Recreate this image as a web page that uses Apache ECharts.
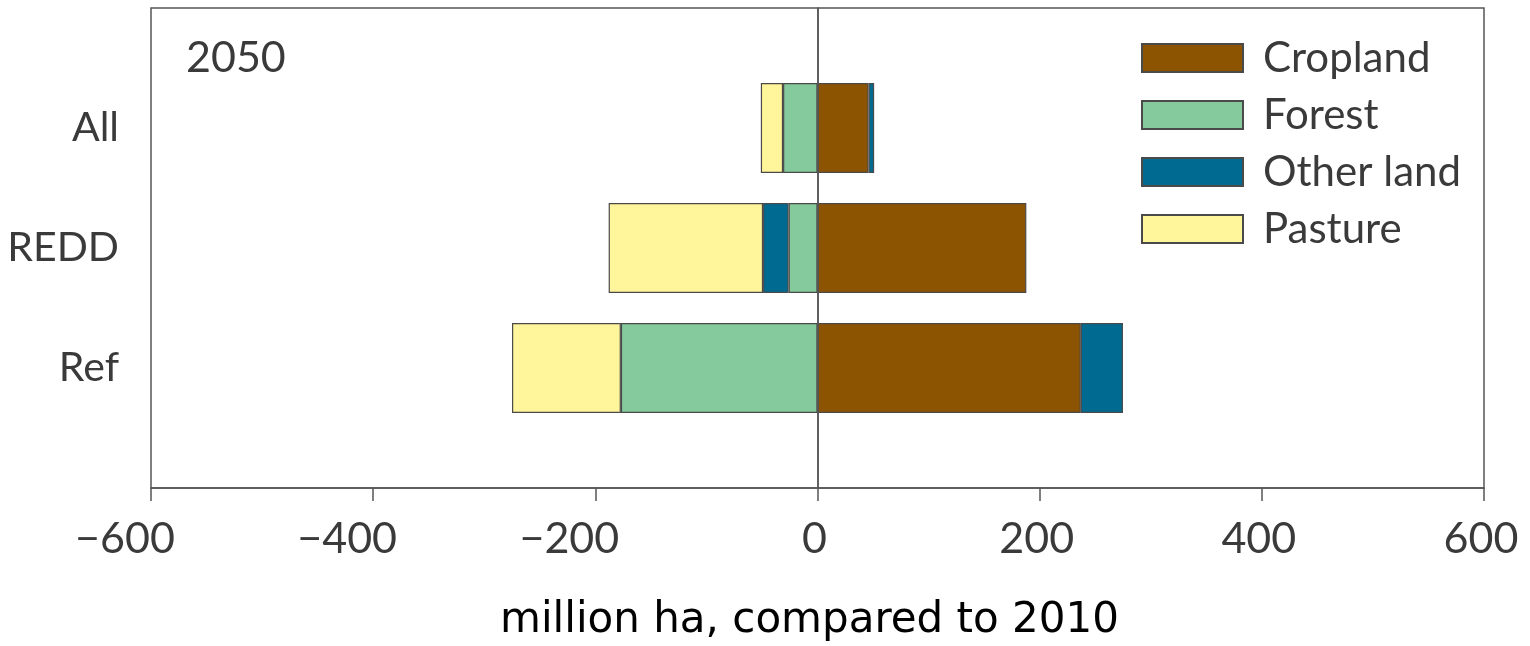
<!DOCTYPE html>
<html>
<head>
<meta charset="utf-8">
<script src="https://cdn.jsdelivr.net/npm/echarts@6/dist/echarts.min.js"></script>
<style>
  html, body { margin: 0; padding: 0; background: #fff; }
  #chart { width: 1530px; height: 646px; }
</style>
</head>
<body>
<div id="chart"></div>
<script>
// Land-use change in 2050 per scenario (million ha, relative to 2010)
const scenarios = ['Ref', 'REDD', 'All'];
const cropland  = [237, 188, 46];
const forest    = [-177, -26, -31];
const otherLand = [38, -23, 5];
const pasture   = [-98, -139, -20];
const xTicks = { min: -600, max: 600, step: 200 };

const seriesNames  = ['Cropland', 'Forest', 'Other land', 'Pasture'];
const seriesValues = [cropland, forest, otherLand, pasture];
const seriesColors = ['#8c5300', '#85ca9c', '#006a91', '#fff59a'];

const labelFont = 'Lato, "Open Sans", sans-serif';
const inkColor = '#3a3a3a';

// pad the category axis with empty slots so scenarios sit on inner ticks
const yCats = [''].concat(scenarios, ['']);
const pad = arr => [null].concat(arr, [null]);

const chart = echarts.init(document.getElementById('chart'));

const series = seriesNames.map((name, i) => ({
  name: name,
  type: 'bar',
  stack: 'total',
  barWidth: 90,
  data: pad(seriesValues[i]),
  itemStyle: { color: seriesColors[i], borderColor: '#4a4a4a', borderWidth: 1.2 },
  emphasis: { disabled: true }
}));

// vertical reference line at zero
series[0].markLine = {
  silent: true,
  symbol: 'none',
  label: { show: false },
  lineStyle: { color: '#555', width: 1.5, type: 'solid' },
  data: [{ xAxis: 0 }],
  z: 10
};

const tickTextStyle = { fontFamily: labelFont, fontSize: 43, color: inkColor };

chart.setOption({
  animation: false,
  backgroundColor: '#fff',
  grid: {
    left: 151, right: 46, top: 8, bottom: 158,
    outerBoundsMode: 'none',
    containLabel: false,
    show: true, borderColor: '#555', borderWidth: 1.5, backgroundColor: 'transparent'
  },
  legend: {
    data: seriesNames,
    orient: 'vertical',
    left: 1141, top: 37,
    padding: 0,
    itemWidth: 101, itemHeight: 28, itemGap: 15,
    icon: 'rect',
    textStyle: { fontFamily: labelFont, fontSize: 42, color: inkColor, padding: [0, 0, 0, 15] },
    selectedMode: false
  },
  graphic: [{
    type: 'text',
    left: 186, top: 37,
    style: { text: '2050', fontFamily: labelFont, fontSize: 43, fill: inkColor }
  }],
  xAxis: {
    type: 'value',
    min: xTicks.min, max: xTicks.max, interval: xTicks.step,
    splitLine: { show: false },
    axisLine: { show: true, onZero: false, lineStyle: { color: '#555', width: 1.5 } },
    axisTick: { show: true, length: 13, lineStyle: { color: '#555', width: 1.5 } },
    axisLabel: {
      margin: 30,
      fontFamily: labelFont, fontSize: 43, color: inkColor,
      formatter: v => v < 0 ? '{neg|\u2212' + Math.abs(v) + '}' : '{pos|' + v + '}',
      rich: {
        neg: Object.assign({ padding: [0, 52, 0, 0] }, tickTextStyle),
        pos: Object.assign({ padding: [0, 6, 0, 0] }, tickTextStyle)
      }
    },
    name: 'million ha, compared to 2010',
    nameLocation: 'middle',
    nameGap: 112,
    nameTextStyle: {
      fontFamily: '"DejaVu Sans", Verdana, sans-serif', fontSize: 42, color: '#000',
      padding: [0, 16, 0, 0]
    }
  },
  yAxis: {
    type: 'category',
    data: yCats,
    boundaryGap: false,
    axisLine: { show: true, lineStyle: { color: '#555', width: 1.5 } },
    axisTick: {
      show: true, length: 14,
      interval: (idx) => idx > 0 && idx < yCats.length - 1,
      lineStyle: { color: '#555', width: 1.5 }
    },
    axisLabel: {
      margin: 32,
      interval: 0,
      fontFamily: labelFont, fontSize: 41, color: inkColor
    },
    splitLine: { show: false }
  },
  series: series
});
</script>
</body>
</html>
